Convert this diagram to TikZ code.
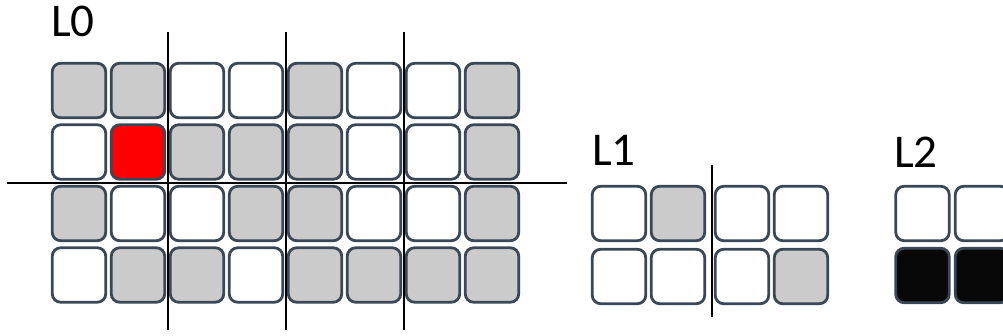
\documentclass[tikz,border=0pt]{standalone}
\usepackage{fontspec}
\setmainfont{Carlito}
\begin{document}
\begin{tikzpicture}[x=1pt,y=-1pt,
  cell/.style={draw=cellborder,line width=2.8pt,rounded corners=8.5pt,minimum width=53.5pt,minimum height=54.5pt,inner sep=0pt,fill=white},
  g/.style={cell,fill=cellgray},
  w/.style={cell,fill=white},
  r/.style={cell,fill=red},
  k/.style={cell,fill=cellblack},
  divider/.style={line width=1.1pt,black},
  lbl/.style={anchor=base west,inner sep=0pt,font=\fontsize{47}{47}\selectfont}]
\definecolor{cellborder}{HTML}{3A4757}
\definecolor{cellgray}{HTML}{CBCBCB}
\definecolor{cellblack}{HTML}{080808}
\useasboundingbox (0,0) rectangle (1003,335);
\clip (0,0) rectangle (1003,335);
% L0
\node[lbl] (t0) at (51,36) {L0};
\foreach \r/\row in {0/{g,g,w,w,g,w,w,g},1/{w,r,g,g,g,w,w,g},2/{g,w,w,g,g,w,w,g},3/{w,g,g,w,g,g,g,g}}{
  \foreach \s [count=\c from 0] in \row {
    \node[\s] (a-\r-\c) at ({79+59*\c},{90.5+61.5*\r}) {};
  }
}
\coordinate (v1t) at (168,32); \coordinate (v1b) at (168,330);
\coordinate (v2t) at (286,32); \coordinate (v2b) at (286,330);
\coordinate (v3t) at (404,32); \coordinate (v3b) at (404,330);
\coordinate (hl) at (7,183); \coordinate (hr) at (567,183);
\draw[divider] (v1t) -- (v1b);
\draw[divider] (v2t) -- (v2b);
\draw[divider] (v3t) -- (v3b);
\draw[divider] (hl) -- (hr);
% L1
\node[lbl] (t1) at (592,165) {L1};
\foreach \r/\row in {0/{w,g,w,w},1/{w,w,w,g}}{
  \foreach \s [count=\c from 0] in \row {
    \pgfmathsetmacro{\xx}{\c<2 ? 619+59*\c : 624+59*\c}
    \node[\s] (b-\r-\c) at (\xx,{213.5+63*\r}) {};
  }
}
\coordinate (v4t) at (712,165); \coordinate (v4b) at (712,317);
\draw[divider] (v4t) -- (v4b);
% L2
\node[lbl] (t2) at (894,167) {L2};
\foreach \r/\row in {0/{w,w},1/{k,k}}{
  \foreach \s [count=\c from 0] in \row {
    \node[\s] (c-\r-\c) at ({922.5+59.5*\c},{213.5+62*\r}) {};
  }
}
\end{tikzpicture}
\end{document}
